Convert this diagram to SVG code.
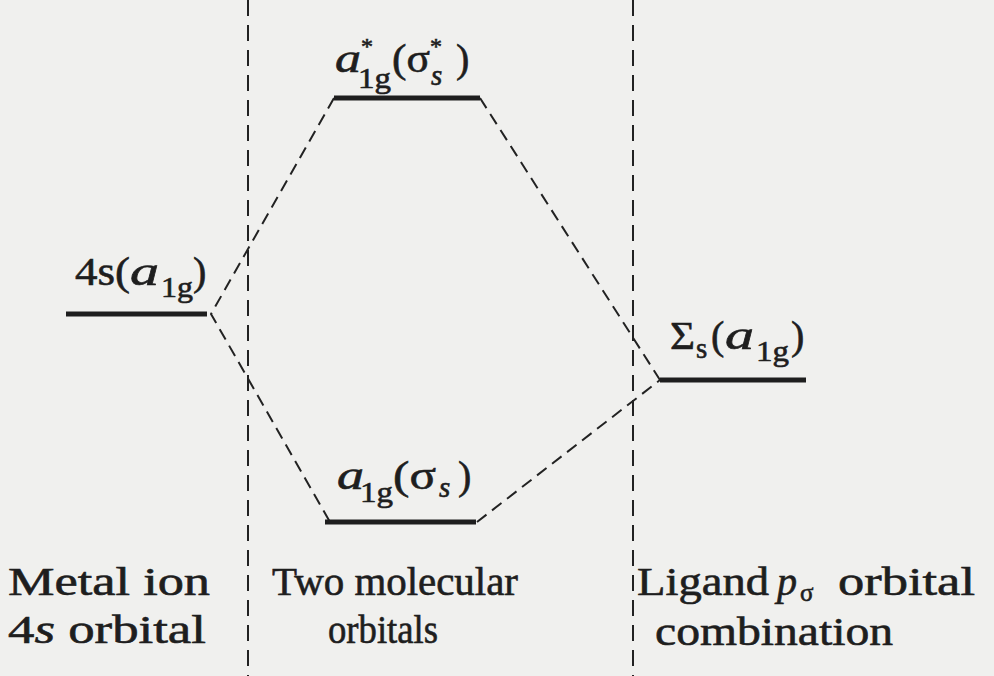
<svg xmlns="http://www.w3.org/2000/svg" width="994" height="676" viewBox="0 0 994 676">
<style>
.t{font-family:"Liberation Serif","DejaVu Serif",serif;fill:#1e1e1e;stroke:#1e1e1e;stroke-width:0.6px;font-size:40px}
.s{font-size:29px}
.st{font-size:24px}
.ss{font-size:25px}
.i{font-style:italic}
.lvl{stroke:#1e1e1e;stroke-width:5;fill:none}
.cn{stroke:#222;stroke-width:2;stroke-dasharray:12 7;fill:none}
.vd{stroke:#222;stroke-width:2;stroke-dasharray:16 9;fill:none}
</style>
<rect width="994" height="676" fill="#f0f0ee"/>
<g id="dividers">
<line class="vd" x1="248" y1="0" x2="248" y2="676"/>
<line class="vd" x1="633" y1="0" x2="633" y2="676"/>
</g>
<g id="connectors">
<polyline class="cn" points="334,98 211,314 330,522"/>
<line class="cn" x1="480" y1="98" x2="660" y2="380"/>
<line class="cn" x1="477" y1="522" x2="660" y2="380"/>
</g>
<g id="metal4s">
<line class="lvl" x1="66" y1="314" x2="207" y2="314"/>
<text class="t" x="75" y="285" textLength="55" lengthAdjust="spacingAndGlyphs">4s(</text>
<text class="t i" x="130" y="285" textLength="29" lengthAdjust="spacingAndGlyphs">a</text>
<text class="t s" x="161" y="297" textLength="32" lengthAdjust="spacingAndGlyphs">1g</text>
<text class="t" x="193" y="285">)</text>
</g>
<g id="antibonding">
<line class="lvl" x1="334" y1="98" x2="480" y2="98"/>
<text class="t i" x="335" y="72" textLength="26" lengthAdjust="spacingAndGlyphs">a</text>
<text class="t st" x="361" y="54">*</text>
<text class="t s" x="358" y="88" textLength="33" lengthAdjust="spacingAndGlyphs">1g</text>
<text class="t" x="392" y="72" textLength="38" lengthAdjust="spacingAndGlyphs">(σ</text>
<text class="t st" x="430" y="54">*</text>
<text class="t s i" x="431" y="85">s</text>
<text class="t" x="456" y="72">)</text>
</g>
<g id="ligand">
<line class="lvl" x1="660" y1="380" x2="806" y2="380"/>
<text class="t" x="670" y="349" textLength="25" lengthAdjust="spacingAndGlyphs">Σ</text>
<text class="t s" x="696" y="358">s</text>
<text class="t" x="711" y="349">(</text>
<text class="t i" x="725" y="349" textLength="29" lengthAdjust="spacingAndGlyphs">a</text>
<text class="t s" x="756" y="361" textLength="33" lengthAdjust="spacingAndGlyphs">1g</text>
<text class="t" x="791" y="349">)</text>
</g>
<g id="bonding">
<line class="lvl" x1="325" y1="522" x2="476" y2="522"/>
<text class="t i" x="337" y="489" textLength="27" lengthAdjust="spacingAndGlyphs">a</text>
<text class="t s" x="360" y="502" textLength="33" lengthAdjust="spacingAndGlyphs">1g</text>
<text class="t" x="393" y="489" textLength="43" lengthAdjust="spacingAndGlyphs">(σ</text>
<text class="t s i" x="439" y="497">s</text>
<text class="t" x="458" y="489">)</text>
</g>
<g id="labels">
<text class="t" x="8" y="595" textLength="202" lengthAdjust="spacingAndGlyphs">Metal ion</text>
<text class="t" x="8" y="643" textLength="198" lengthAdjust="spacingAndGlyphs">4<tspan class="i">s</tspan> orbital</text>
<text class="t" x="272" y="595" textLength="246" lengthAdjust="spacingAndGlyphs">Two molecular</text>
<text class="t" x="328" y="643" textLength="110" lengthAdjust="spacingAndGlyphs">orbitals</text>
<text class="t" x="637" y="595" textLength="132" lengthAdjust="spacingAndGlyphs">Ligand</text>
<text class="t i" x="777" y="595" textLength="20" lengthAdjust="spacingAndGlyphs">p</text>
<text class="t ss" x="800" y="601">σ</text>
<text class="t" x="838" y="595" textLength="137" lengthAdjust="spacingAndGlyphs">orbital</text>
<text class="t" x="655" y="645" textLength="238" lengthAdjust="spacingAndGlyphs">combination</text>
</g>
</svg>
